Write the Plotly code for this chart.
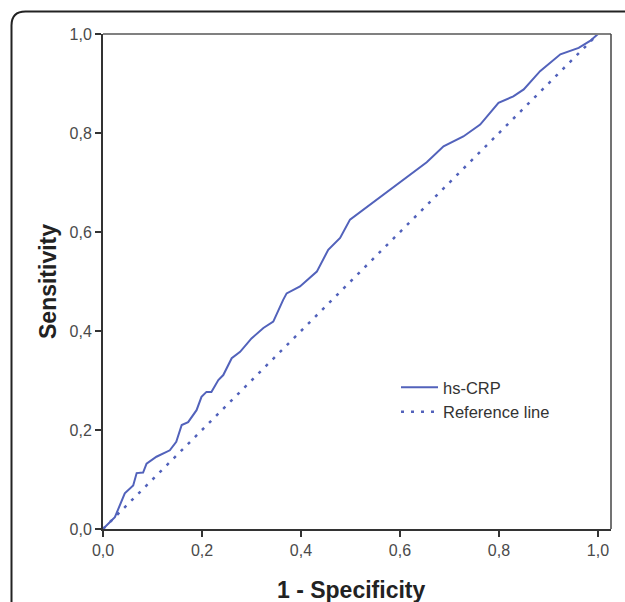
import plotly.graph_objects as go

fpr = [0.0, 0.024, 0.027, 0.044, 0.061, 0.068, 0.081, 0.088, 0.108, 0.135, 0.148,
       0.159, 0.172, 0.189, 0.199, 0.209, 0.219, 0.233, 0.243, 0.260, 0.277, 0.300,
       0.324, 0.344, 0.364, 0.371, 0.398, 0.432, 0.455, 0.479, 0.499, 0.526, 0.566,
       0.607, 0.654, 0.688, 0.728, 0.762, 0.799, 0.829, 0.850, 0.883, 0.924, 0.961,
       0.984, 1.0]
tpr = [0.0, 0.024, 0.031, 0.072, 0.088, 0.113, 0.114, 0.132, 0.146, 0.159, 0.176,
       0.210, 0.216, 0.240, 0.267, 0.277, 0.277, 0.301, 0.311, 0.345, 0.358, 0.385,
       0.406, 0.419, 0.463, 0.476, 0.490, 0.520, 0.564, 0.588, 0.625, 0.645, 0.675,
       0.706, 0.741, 0.773, 0.793, 0.817, 0.861, 0.874, 0.888, 0.925, 0.959, 0.972,
       0.986, 1.0]
ref_x = [0.0, 1.0]
ref_y = [0.0, 1.0]
ticks = [0.0, 0.2, 0.4, 0.6, 0.8, 1.0]
tick_labels = ["0,0", "0,2", "0,4", "0,6", "0,8", "1,0"]

color = "#5262bb"
W, H = 625, 602
L, R, T, B = 103, 14, 34, 73
FONT = "Liberation Sans, Arial, sans-serif"

fig = go.Figure()
fig.add_trace(go.Scatter(x=fpr, y=tpr, mode="lines", name="hs-CRP",
                         line=dict(color=color, width=2)))
fig.add_trace(go.Scatter(x=ref_x, y=ref_y, mode="lines", name="Reference line",
                         line=dict(color=color, width=2.5, dash="3px,7px")))

axis_common = dict(
    tickmode="array", tickvals=ticks, ticktext=tick_labels,
    ticks="outside", ticklen=6, tickwidth=2, tickcolor="#333",
    showline=True, linewidth=2, linecolor="#333",
    showgrid=False, zeroline=False, automargin=False,
    tickfont=dict(family=FONT, size=16, color="#4a4a4a"),
)
fig.update_xaxes(range=[0, 1.0263], **axis_common)
fig.update_yaxes(range=[0, 1.0], **axis_common)

pw = W - L - R
ph = H - T - B
def px_x(p):
    return (p - L) / pw
def px_y(p):
    return (H - B - p) / ph

# top and right plot borders
fig.add_shape(type="line", xref="paper", yref="paper", x0=0, x1=1, y0=1, y1=1,
              line=dict(color="#808080", width=2))
fig.add_shape(type="line", xref="paper", yref="paper", x0=1, x1=1, y0=0, y1=1,
              line=dict(color="#444", width=1.5))

# outer rounded frame (extends off canvas right and bottom)
x0, y0 = px_x(11.5), px_y(11.5)
x1, y1 = px_x(640), px_y(640)
rx, ry = 14 / pw, 14 / ph
path = (f"M {x0},{y1} L {x0},{y0 - ry} Q {x0},{y0} {x0 + rx},{y0} "
        f"L {x1},{y0} ")
fig.add_shape(type="path", xref="paper", yref="paper", path=path,
              line=dict(color="#222", width=2))

fig.add_annotation(text="<b>Sensitivity</b>", xref="paper", yref="paper",
                   x=px_x(48), y=px_y(282), showarrow=False, textangle=-90,
                   xanchor="center", yanchor="middle",
                   font=dict(family=FONT, size=23, color="#222"))
fig.add_annotation(text="<b>1 - Specificity</b>", xref="paper", yref="paper",
                   x=px_x(351), y=px_y(590), showarrow=False,
                   xanchor="center", yanchor="middle",
                   font=dict(family=FONT, size=23, color="#222"))

fig.update_layout(
    width=W, height=H,
    margin=dict(l=L, r=R, t=T, b=B, autoexpand=False),
    paper_bgcolor="white", plot_bgcolor="white",
    showlegend=True,
    legend=dict(x=px_x(396), y=px_y(370), xanchor="left", yanchor="top",
                bgcolor="rgba(0,0,0,0)",
                font=dict(family=FONT, size=16.5, color="#333"),
                tracegroupgap=0, itemwidth=37),
)
fig.write_html("out.html", config={"displayModeBar": False},
               post_script="document.body.style.margin='0px';")
